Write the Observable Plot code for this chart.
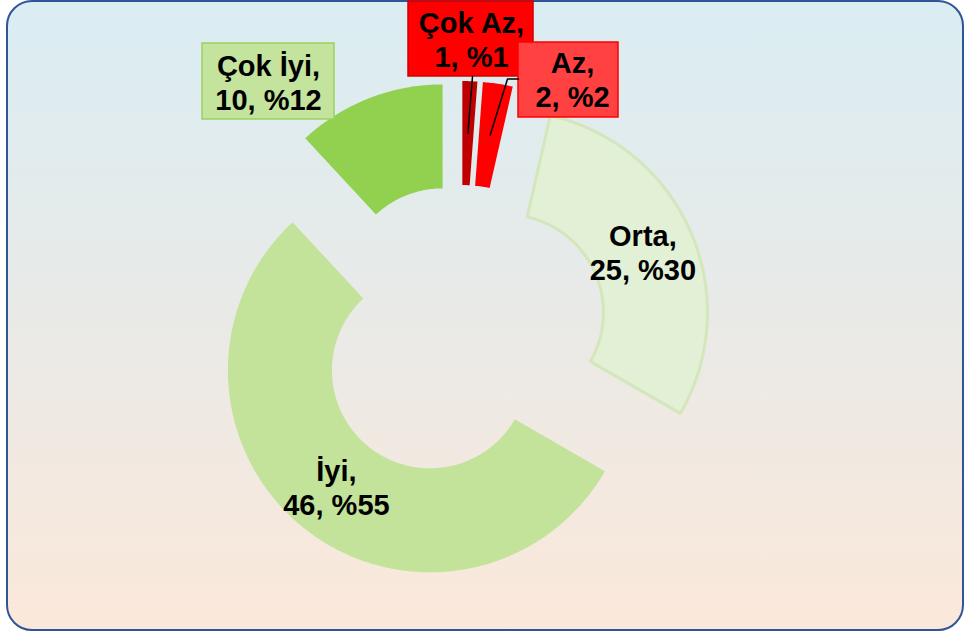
<!DOCTYPE html>
<html><head><meta charset="utf-8">
<script src="https://cdn.jsdelivr.net/npm/d3@7"></script>
<script src="https://cdn.jsdelivr.net/npm/@observablehq/plot@0.6"></script>
<style>
html,body{margin:0;padding:0;background:#fff;}
#wrap{position:relative;width:965px;height:631px;overflow:hidden;}
#bg{position:absolute;left:6px;top:0;width:958px;height:631px;box-sizing:border-box;border:2px solid #2F5597;border-radius:26px;background:linear-gradient(#DAEDF3 0%, #E9EAE7 50%, #FBE8DA 100%);}
#chart{position:absolute;left:0;top:0;}
</style></head><body>
<div id="wrap"><div id="bg"></div><div id="chart"></div></div>
<script>
// ---- data ----
const categories = ["Çok Az", "Az", "Orta", "İyi", "Çok İyi"];
const values = [1, 2, 25, 46, 10];

// ---- styles ----
const fills = ["#C00000", "#FF0000", "#E2F0D5", "#C3E29A", "#92D050"];
const outlineColor = "#D4E6BC";
const boxStyle = {
  "Çok Az": {fill: "#FF0000", stroke: "#D00000"},
  "Az": {fill: "#FF4141", stroke: "#FF0000"},
  "Çok İyi": {fill: "#C4E39C", stroke: "#9BD25E"}
};

// ---- layout ----
const W = 965, H = 631, CX = 460, CY = 331.5;
const R = 202, r = 98, EXPLODE = 49;
// manually-placed outside labels (offsets from pie centre, px) and box sizes
const outsideLabel = {
  "Çok Az": {dx: 11, dy: -292.5, bdx: -0.5, bdy: -0.5, bw: 125, bh: 75, leader: "bottom"},
  "Az": {dx: 112, dy: -253, bdx: -4, bdy: 1, bw: 100, bh: 75, leader: "left"},
  "Çok İyi": {dx: -192, dy: -249.5, bdx: 0, bdy: -1, bw: 132, bh: 76, leader: null}
};

const total = d3.sum(values);
const data = categories.map((c, i) => ({cat: c, value: values[i], fill: fills[i]}));
const arcs = d3.pie().sort(null).value(d => d.value)(data);

const polar = (a, rad) => [rad * Math.sin(a), -rad * Math.cos(a)];

const slicePts = [];
const sliceInfo = {};
for (const a of arcs) {
  const mid = (a.startAngle + a.endAngle) / 2;
  const [ox, oy] = polar(mid, EXPLODE);
  sliceInfo[a.data.cat] = {ox, oy, mid};
  const n = Math.max(2, Math.ceil((a.endAngle - a.startAngle) / (Math.PI / 360)));
  const pts = [];
  for (let k = 0; k <= n; k++) {
    const t = a.startAngle + (a.endAngle - a.startAngle) * k / n;
    const [x, y] = polar(t, R); pts.push({x: x + ox, y: y + oy});
  }
  for (let k = n; k >= 0; k--) {
    const t = a.startAngle + (a.endAngle - a.startAngle) * k / n;
    const [x, y] = polar(t, r); pts.push({x: x + ox, y: y + oy});
  }
  pts.forEach(p => slicePts.push({...p, key: a.data.cat, fill: a.data.fill}));
}

const label = d => `${d.cat},\n${d.value}, %${Math.round(d.value / total * 100)}`;
const labels = [], boxes = [], leaders = [];
const midR = (R + r) / 2;
for (const a of arcs) {
  const d = a.data, s = sliceInfo[d.cat];
  const [ax, ay] = polar(s.mid, midR);
  const anchor = {x: s.ox + ax, y: s.oy + ay};
  const o = outsideLabel[d.cat];
  if (!o) { labels.push({...anchor, text: label(d)}); continue; }
  labels.push({x: o.dx, y: o.dy, text: label(d)});
  const bx = o.dx + o.bdx, by = o.dy + o.bdy;
  boxes.push({x1: bx - o.bw / 2, x2: bx + o.bw / 2, y1: by - o.bh / 2, y2: by + o.bh / 2, ...boxStyle[d.cat]});
  if (o.leader === "bottom") {
    leaders.push({key: d.cat, x: o.dx + 1, y: by + o.bh / 2}, {key: d.cat, ...anchor});
  } else if (o.leader === "left") {
    const lx = bx - o.bw / 2;
    leaders.push({key: d.cat, x: lx, y: by - 1}, {key: d.cat, x: lx - 11, y: by - 1}, {key: d.cat, ...anchor});
  }
}

const chart = Plot.plot({
  width: W, height: H,
  marginTop: 0, marginRight: 0, marginBottom: 0, marginLeft: 0,
  x: {domain: [-CX, W - CX], range: [0, W], axis: null},
  y: {domain: [-CY, H - CY], range: [0, H], axis: null},
  color: {type: "identity"},
  style: {background: "transparent", overflow: "visible"},
  marks: [
    Plot.line(slicePts, {x: "x", y: "y", z: "key", fill: "fill", stroke: null, curve: "linear-closed"}),
    Plot.line(slicePts.filter(p => p.key === "Orta"), {x: "x", y: "y", z: "key", fill: "none", stroke: outlineColor, strokeWidth: 3, curve: "linear-closed", strokeLinejoin: "miter"}),
    Plot.rect(boxes, {x1: "x1", x2: "x2", y1: "y1", y2: "y2", fill: "fill", stroke: "stroke", strokeWidth: 1.5}),
    Plot.line(leaders, {x: "x", y: "y", z: "key", stroke: "#000", strokeWidth: 1.5}),
    Plot.text(labels, {x: "x", y: "y", text: "text", fill: "#000", fontSize: 29, fontWeight: "bold",
      fontFamily: "'Liberation Sans', Arial, sans-serif", lineHeight: 1.17, lineAnchor: "middle"})
  ]
});
document.getElementById("chart").appendChild(chart);
</script>
</body></html>
